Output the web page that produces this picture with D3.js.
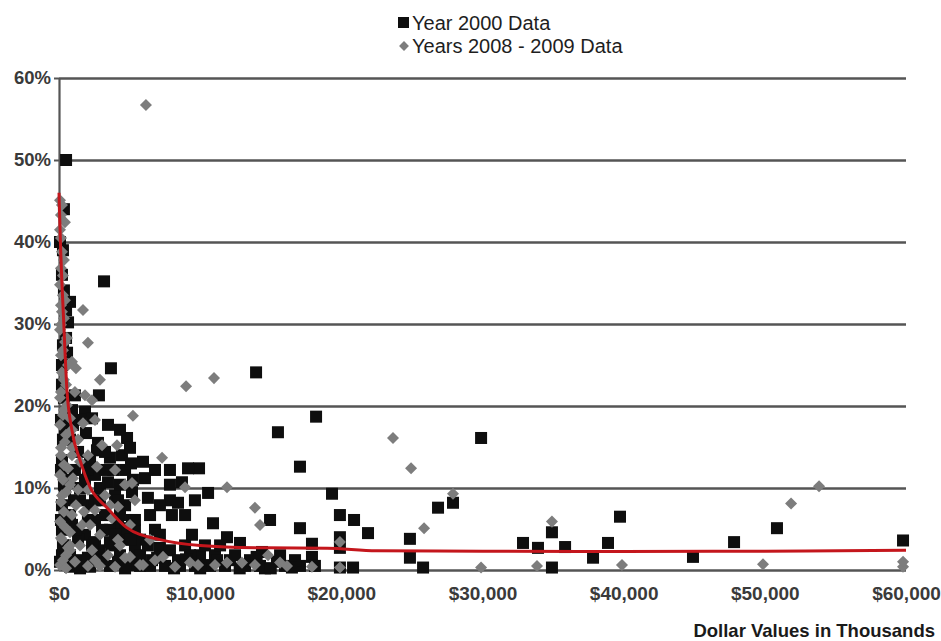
<!DOCTYPE html>
<html>
<head>
<meta charset="utf-8">
<script src="https://cdn.jsdelivr.net/npm/d3@7/dist/d3.min.js"></script>
<style>
  html, body { margin: 0; padding: 0; background: #fff; }
  svg { display: block; font-family: "Liberation Sans", Arial, sans-serif; }
</style>
</head>
<body>
<svg id="chart" width="941" height="641"></svg>
<script>
// ---------- DATA ----------
const xTicks = [0, 10000, 20000, 30000, 40000, 50000, 60000];
const yTicks = [0, 10, 20, 30, 40, 50, 60];
const seriesNames = ["Year 2000 Data", "Years 2008 - 2009 Data"];
const xTitle = "Dollar Values in Thousands";

// Year 2000 Data: [dollar value (thousands), percent]
const year2000 = [
  [500,50.0],[350,44.0],[70,40.0],[3190,35.2],[780,32.7],[640,30.2],[500,28.3],[570,26.5],
  [3680,24.6],[13960,24.1],[18210,18.7],[15510,16.8],[17070,12.6],[29900,16.1],[19340,9.3],
  [26850,7.6],[27910,8.2],[19900,6.7],[20900,6.1],[21890,4.5],[17070,5.1],[17920,3.2],[17920,1.6],
  [19900,4.0],[19900,2.7],[24860,3.8],[24860,1.5],[25790,0.3],[20830,0.3],[19900,0.3],
  [32870,3.3],[33930,2.7],[34920,4.6],[35850,2.8],[34920,0.3],[37830,1.5],[38890,3.3],[39740,6.5],
  [44910,1.6],[47820,3.4],[50860,5.1],[59790,3.6],
  [1840,19.3],[2830,21.3],[1910,16.7],[2760,15.5],[2690,14.6],[4460,14.0],[4820,16.1],[3830,12.2],
  [5950,13.2],[9920,12.4],[10560,9.4],[6300,8.8],[7860,12.2],[7860,10.4],[7860,8.5],[8000,6.7],
  [8430,8.2],[10910,5.7],[11900,4.0],[12820,3.3],[14950,6.1],[9420,4.3],[9990,1.8],[15440,1.0],
  [14380,2.2],[2900,10.0],[3970,9.1],[2200,7.9],[3260,6.7],[4680,7.9],[4180,5.5],[5170,6.1],
  [5740,3.7],[6800,4.9],[7150,2.7],[8930,3.0],[11050,1.8],[12110,1.2],
  [5740,0.5],[6450,0.5],[7510,0.5],[8570,0.5],[9630,0.5],[10700,0.5],[11760,0.5],[13180,0.5],
  [14240,0.5],[16010,0.5],[17070,0.5],[18130,0.5],
  [210,22.6],[1130,21.3],[1490,18.3],[780,15.9],[2200,13.4],[1130,12.2],[1840,11.0],[430,11.0],
  [2550,11.6],[1490,8.5],[780,6.7],[2550,6.1],[3610,4.9],[1840,4.3],[430,3.0],[2900,2.4],
  [4320,1.8],[1490,1.2],[5030,0.6],[3610,0.5],[2200,0.4],[780,0.4],[210,1.8],[210,4.9],
  [210,7.9],[210,13.4],[5380,2.7],[4680,3.7],[3260,12.2],[4320,10.4],[5380,4.9],[990,17.7],
  [920,19.5],[2340,18.5],[3470,17.7],[430,17.3],[4320,17.1],[1350,14.4],[3610,13.7],[5030,14.9],
  [2050,12.2],[4680,12.2],[430,9.8],[1490,10.0],[3470,10.7],[5170,9.5],[2550,8.5],[4180,8.5],
  [920,5.5],[2050,6.1],[3050,4.9],[4680,5.1],[1350,3.7],[2550,3.4],[3750,3.0],[5030,3.7],
  [780,1.8],[2050,1.5],[3050,1.2],[4180,1.0],[5380,1.5],[1490,0.2],[4680,0.2],[5740,1.8],
  [6300,3.0],[6590,1.2],[7150,4.3],[7860,2.4],[8430,1.2],[9280,1.8],[10340,3.0],[11410,3.0],
  [12470,1.8],[13530,1.2],[10340,0.6],[14590,0.2],[15660,1.8],[16720,1.2],[6450,6.7],[7150,7.9],
  [8930,6.7],[9630,8.5],[6090,11.2],[6800,12.2],[8710,10.7],[9140,12.4],
  [280,39.0],[210,36.0],[350,34.1],[500,31.7],[280,27.4],[210,25.0],[350,21.0],[140,18.3],
  [280,15.9],[140,12.2],[350,10.4],[140,6.1],[280,3.0],[70,1.0],
  [3260,14.4],[5100,13.0],[2900,8.5],[4320,6.7],[3610,3.4],[5380,6.1],[5240,11.0],[3970,4.3],
  [2340,3.0],[1200,4.9],[1060,8.5],[6950,1.5],[8150,0.2],[9000,1.3],[10000,0.2],[11200,1.2],
  [12800,0.2],[14000,1.6],[15000,0.2],[16500,0.3]
];

// Years 2008 - 2009 Data: [dollar value (thousands), percent]
const years2008 = [
  [6160,56.7],[1700,31.7],[2050,27.7],[2900,23.2],[9000,22.4],[10980,23.4],[5240,18.8],[7300,13.7],
  [8930,10.1],[11900,10.1],[13880,7.6],[14240,5.5],[14810,1.8],[23660,16.1],[24940,12.4],[25860,5.1],
  [27910,9.3],[34920,5.9],[33860,0.5],[29900,0.3],[39880,0.6],[49870,0.7],[51860,8.1],[53840,10.2],
  [59790,0.4],[59790,1.0],[19900,3.4],[19900,0.3],
  [7370,1.6],[11900,0.9],[12960,0.9],[15660,0.9],[16150,0.5],[5950,0.6],[9850,0.6],[17920,0.4],
  [70,45.1],[140,43.3],[70,41.5],[210,38.8],[140,36.8],[70,34.8],[280,33.5],[140,32.3],
  [350,30.7],[70,29.3],[430,27.8],[140,26.2],[920,25.4],[1200,24.6],[210,24.1],[1130,21.7],
  [500,22.6],[70,21.0],[2340,20.7],[350,19.5],[780,18.5],[70,17.7],[500,16.5],[1350,15.9],
  [140,14.9],[920,14.0],[350,12.8],[1490,13.2],[70,11.6],[780,10.4],[2050,9.8],[210,9.1],
  [1200,7.9],[350,7.1],[2550,7.3],[3610,7.9],[70,5.9],[1630,5.5],[780,4.6],[2900,4.3],
  [4180,3.7],[210,3.7],[1490,3.0],[2340,2.4],[500,1.8],[3470,1.8],[4680,1.5],[1130,1.0],
  [70,0.6],[2050,0.5],[2900,0.5],[3970,0.4],[5030,1.6],[640,2.7],[1770,7.1],[990,11.2],
  [4180,7.7],[1700,17.9],[4110,15.2],[2690,12.6],[5170,10.6],
  [210,44.5],[420,42.4],[140,40.5],[350,37.8],[280,35.9],[420,32.9],[210,31.5],[140,29.9],
  [560,28.3],[280,26.8],[640,25.0],[350,23.2],[140,21.7],[560,20.1],[280,18.9],[920,17.1],
  [420,15.6],[140,14.0],[640,12.4],[280,11.0],[500,9.5],[140,8.3],[920,6.7],[420,5.2],
  [140,3.9],[780,2.4],[280,1.2],[500,0.2],
  [1840,21.3],[2550,18.3],[920,14.9],[3050,15.2],[2050,14.0],[3970,12.2],[1350,9.8],[3260,9.1],
  [4680,10.4],[2200,5.5],[3750,6.3],[5030,5.5],[780,3.0],[2550,1.2],[4320,3.0],[5740,0.6],
  [6800,1.2],[8220,0.4],[9280,0.9],[11050,0.6],[13880,0.6],[6450,3.7],[5380,8.5]
];

// Fitted trend (red curve): [dollar value (thousands), percent]
const trend = [
  [0,46.0],[100,40.0],[340,30.0],[550,22.3],[920,17.0],[1490,13.4],[2200,10.1],[3400,7.6],
  [4770,5.2],[7150,3.7],[10000,3.0],[14700,2.7],[19000,2.65],[22500,2.35],[30000,2.3],
  [40000,2.25],[50000,2.3],[60000,2.4]
];

// ---------- CHART ----------
const svg = d3.select("#chart");
const pLeft = 59, pRight = 906, pTop = 78, pBottom = 570;

const x = d3.scaleLinear().domain([0, 60000]).range([pLeft, pRight]);
const y = d3.scaleLinear().domain([0, 60]).range([pBottom, pTop]);

// gridlines
const grid = svg.append("g").attr("transform", `translate(${pLeft},0)`)
  .call(d3.axisLeft(y).tickValues(yTicks).tickSize(-(pRight - pLeft)).tickFormat(""));
grid.select(".domain").remove();
grid.selectAll(".tick line").attr("stroke", "#555").attr("stroke-width", 2.5);

// y axis with labels
const yAxis = svg.append("g").attr("transform", `translate(${pLeft},0)`)
  .call(d3.axisLeft(y).tickValues(yTicks).tickSize(5).tickSizeOuter(0).tickPadding(3)
    .tickFormat(d => d + "%"));
yAxis.select(".domain").attr("stroke", "#555").attr("stroke-width", 2.2);
yAxis.selectAll(".tick line").attr("stroke", "#555").attr("stroke-width", 2);
yAxis.selectAll("text").attr("font-size", 18.5).attr("font-weight", "bold").attr("fill", "#3a3a3a")
  .attr("font-family", "'Liberation Sans', Arial, sans-serif");

// x axis labels
const xAxis = svg.append("g").attr("transform", `translate(0,${pBottom})`)
  .call(d3.axisBottom(x).tickValues(xTicks).tickSize(0).tickPadding(17)
    .tickFormat(d => "$" + d3.format(",")(d)));
xAxis.select(".domain").remove();
xAxis.selectAll("text").attr("font-size", 19).attr("font-weight", "bold").attr("fill", "#3a3a3a")
  .attr("font-family", "'Liberation Sans', Arial, sans-serif");

// x axis title
svg.append("text").attr("x", 935).attr("y", 637).attr("text-anchor", "end")
  .attr("font-size", 18.5).attr("font-weight", "bold").attr("fill", "#1a1a1a")
  .text(xTitle);

// series: Year 2000 squares
const sq = 12;
svg.append("g").selectAll("rect").data(year2000).join("rect")
  .attr("x", d => x(d[0]) - sq / 2).attr("y", d => y(d[1]) - sq / 2)
  .attr("width", sq).attr("height", sq).attr("fill", "#0e0e0e");

// series: 2008-2009 diamonds
const dm = 8.5;
svg.append("g").selectAll("rect").data(years2008).join("rect")
  .attr("x", -dm / 2).attr("y", -dm / 2).attr("width", dm).attr("height", dm)
  .attr("transform", d => `translate(${x(d[0])},${y(d[1])}) rotate(45)`)
  .attr("fill", "#7d7d7d");

// trend line
svg.append("path").datum(trend)
  .attr("d", d3.line().x(d => x(d[0])).y(d => y(d[1])).curve(d3.curveMonotoneX))
  .attr("fill", "none").attr("stroke", "#c4161c").attr("stroke-width", 3);

// legend
const lg = svg.append("g");
lg.append("rect").attr("x", 398).attr("y", 17).attr("width", 11).attr("height", 11).attr("fill", "#0e0e0e");
lg.append("text").attr("x", 412).attr("y", 30).attr("font-size", 20).attr("fill", "#1e1e1e").text(seriesNames[0]);
lg.append("rect").attr("x", -3.5).attr("y", -3.5).attr("width", 7).attr("height", 7)
  .attr("transform", "translate(404,46) rotate(45)").attr("fill", "#7d7d7d");
lg.append("text").attr("x", 412).attr("y", 53).attr("font-size", 20).attr("fill", "#1e1e1e").text(seriesNames[1]);
</script>
</body>
</html>
